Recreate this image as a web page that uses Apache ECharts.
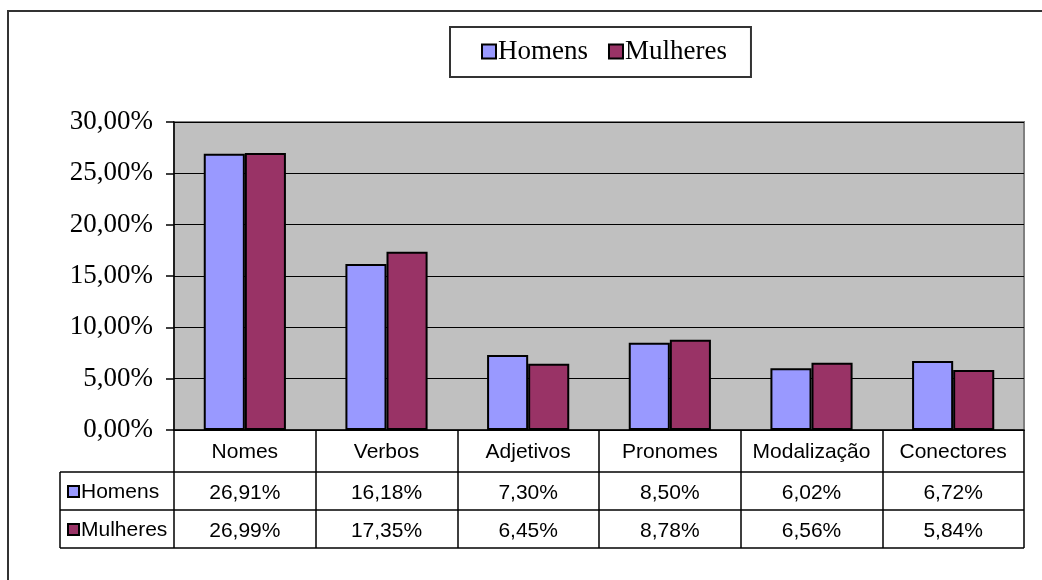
<!DOCTYPE html>
<html>
<head>
<meta charset="utf-8">
<script src="https://cdn.jsdelivr.net/npm/echarts@6/dist/echarts.min.js"></script>
<style>
  html, body { margin: 0; padding: 0; background: #fff; }
  #chart { width: 1042px; height: 580px; }
</style>
</head>
<body>
<div id="chart"></div>
<script>
// Word-class frequencies by speaker group (percent)
const categories = ['Nomes', 'Verbos', 'Adjetivos', 'Pronomes', 'Modalização', 'Conectores'];
const seriesNames = ['Homens', 'Mulheres'];
const homens = [26.91, 16.18, 7.30, 8.50, 6.02, 6.72];
const mulheres = [26.99, 17.35, 6.45, 8.78, 6.56, 5.84];
const yTicks = { min: 0, max: 30, interval: 5 };

const colors = ['#9999FF', '#993366'];
const fmtPct = v => Number(v).toFixed(2).replace('.', ',') + '%';

// plot-area geometry (pixels)
const G = { left: 174, top: 122, right: 1024, bottom: 430 };
const rowH = [42, 38, 38];          // category row, Homens row, Mulheres row
const tableLeft = 60;
const row1 = G.bottom + rowH[0];
const row2 = row1 + rowH[1];
const row3 = row2 + rowH[2];

const sansFont = '"Liberation Sans", Arial, sans-serif';
const serifFont = '"Liberation Serif", "Times New Roman", serif';

const chart = echarts.init(document.getElementById('chart'), null, { renderer: 'canvas' });

const valueAxis = (offset, values) => ({
  type: 'category',
  data: categories,
  position: 'bottom',
  offset: offset,
  axisLine: { show: false },
  axisTick: { show: false },
  axisLabel: {
    interval: 0, margin: 11, color: '#000',
    fontFamily: sansFont, fontSize: 21,
    formatter: (val, idx) => fmtPct(values[idx])
  }
});

// row labels of the data table with their colour keys
const rowLabels = [];
seriesNames.forEach((name, i) => {
  const yc = (i === 0 ? (row1 + row2) / 2 : (row2 + row3) / 2);
  rowLabels.push({
    type: 'rect',
    shape: { x: 68, y: yc - 5, width: 11, height: 11 },
    style: { fill: colors[i], stroke: '#000', lineWidth: 2 }
  });
  rowLabels.push({
    type: 'text',
    x: 81, y: yc + 1,
    style: { text: name, font: '21px ' + sansFont, fill: '#000', verticalAlign: 'middle' }
  });
});

const tableLines = [
  { x1: tableLeft, y1: row1, x2: G.right, y2: row1 },
  { x1: tableLeft, y1: row2, x2: G.right, y2: row2 },
  { x1: tableLeft, y1: row3, x2: G.right, y2: row3 },
  { x1: tableLeft, y1: row1, x2: tableLeft, y2: row3 }
].map(s => ({ type: 'line', shape: s, style: { stroke: '#000', lineWidth: 1.5 } }));

chart.setOption({
  animation: false,
  backgroundColor: '#fff',
  color: colors,
  grid: {
    left: G.left, top: G.top, right: 1042 - G.right, bottom: 580 - G.bottom,
    show: true, backgroundColor: '#C0C0C0', borderColor: '#808080', borderWidth: 2
  },
  legend: {
    data: seriesNames,
    left: 450, top: 27,
    padding: [11, 24, 12, 31],
    itemGap: 20,
    itemWidth: 14, itemHeight: 14,
    icon: 'rect',
    backgroundColor: '#fff',
    borderColor: '#333', borderWidth: 2,
    itemStyle: { borderColor: '#000', borderWidth: 2 },
    textStyle: { fontFamily: serifFont, fontSize: 27, color: '#000', padding: [2, 0, 0, -3] }
  },
  xAxis: [
    {
      type: 'category',
      data: categories,
      position: 'bottom',
      axisLine: { show: true, lineStyle: { color: '#000', width: 1.5 } },
      axisTick: { show: true, interval: 0, length: row3 - G.bottom, lineStyle: { color: '#000', width: 1.5 } },
      axisLabel: { interval: 0, margin: 12, color: '#000', fontFamily: sansFont, fontSize: 21 }
    },
    valueAxis(rowH[0], homens),
    valueAxis(rowH[0] + rowH[1], mulheres)
  ],
  yAxis: {
    type: 'value',
    min: yTicks.min, max: yTicks.max, interval: yTicks.interval,
    axisLine: { show: true, lineStyle: { color: '#000', width: 1.5 } },
    axisTick: { show: true, length: 8, lineStyle: { color: '#000', width: 1.5 } },
    splitLine: { show: true, lineStyle: { color: '#000', width: 1 } },
    axisLabel: { color: '#000', fontFamily: serifFont, fontSize: 27, margin: 21, formatter: fmtPct }
  },
  series: [
    {
      name: seriesNames[0], type: 'bar', data: homens,
      barCategoryGap: '42%', barGap: '0%',
      itemStyle: { color: colors[0], borderColor: '#000', borderWidth: 2 }
    },
    {
      name: seriesNames[1], type: 'bar', data: mulheres,
      barCategoryGap: '42%', barGap: '0%',
      itemStyle: { color: colors[1], borderColor: '#000', borderWidth: 2 }
    }
  ],
  graphic: [
    {
      type: 'rect',
      shape: { x: 8, y: 11, width: 1060, height: 600 },
      style: { fill: 'none', stroke: '#333', lineWidth: 2 },
      silent: true
    }
  ].concat(tableLines, rowLabels)
});
</script>
</body>
</html>
